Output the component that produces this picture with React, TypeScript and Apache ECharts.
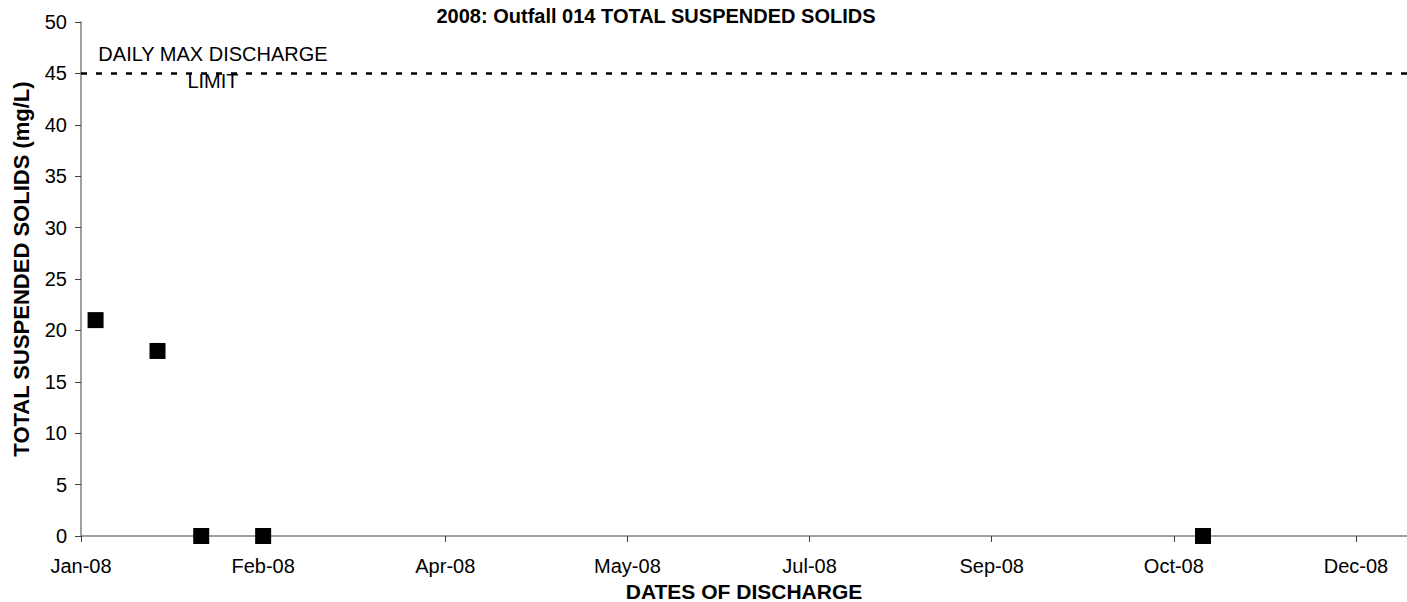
import React, { useEffect, useRef } from "react";
import * as echarts from "echarts";

// ---- data ----
const sampleDates = ["2008-01-05", "2008-01-22", "2008-02-03", "2008-02-20", "2008-11-04"];
const tssValues = [21, 18, 0, 0, 0];
const dailyMaxLimit = 45;
const xTickLabels = ["Jan-08", "Feb-08", "Apr-08", "May-08", "Jul-08", "Sep-08", "Oct-08", "Dec-08"];
const yTicks = [0, 5, 10, 15, 20, 25, 30, 35, 40, 45, 50];

const AXIS_START = Date.UTC(2008, 0, 1);
const DAY_MS = 86400000;
const X_INTERVAL = 50; // days between major ticks
const X_MAX = 364; // days shown

const toDay = (s: string) => Math.round((Date.parse(s + "T00:00:00Z") - AXIS_START) / DAY_MS);

const FONT = "'Liberation Sans', Arial, Helvetica, sans-serif";

export default function App() {
  const ref = useRef<HTMLDivElement>(null);

  useEffect(() => {
    if (!ref.current) return;
    const chart = echarts.init(ref.current, undefined, { renderer: "svg" });
    const points = sampleDates.map((d, i) => [toDay(d), tssValues[i]]);
    chart.setOption({
      animation: false,
      backgroundColor: "#ffffff",
      textStyle: { fontFamily: FONT },
      grid: {
        left: 81,
        top: 22,
        width: 1326,
        height: 514,
        containLabel: false,
        outerBoundsMode: "none",
      },
      xAxis: {
        type: "value",
        min: 0,
        max: X_MAX,
        interval: X_INTERVAL,
        name: "DATES OF DISCHARGE",
        nameLocation: "middle",
        nameGap: 44,
        nameTextStyle: { fontFamily: FONT, fontSize: 21, fontWeight: "bold", color: "#000" },
        axisLine: { show: true, onZero: false, lineStyle: { color: "#808080", width: 1.5 } },
        axisTick: { show: true, inside: false, length: 6, lineStyle: { color: "#404040", width: 1 } },
        axisLabel: {
          show: true,
          margin: 20,
          fontFamily: FONT,
          fontSize: 20,
          color: "#000",
          showMaxLabel: false,
          formatter: (v: number) => xTickLabels[Math.round(v / X_INTERVAL)] ?? "",
        },
        splitLine: { show: false },
      },
      yAxis: {
        type: "value",
        min: yTicks[0],
        max: yTicks[yTicks.length - 1],
        interval: yTicks[1] - yTicks[0],
        axisLine: { show: true, lineStyle: { color: "#808080", width: 1.5 } },
        axisTick: { show: true, inside: false, length: 6, lineStyle: { color: "#404040", width: 1 } },
        axisLabel: { margin: 14, fontFamily: FONT, fontSize: 20, color: "#000" },
        splitLine: { show: false },
      },
      series: [
        {
          name: "Daily max limit",
          type: "line",
          data: [
            [0, dailyMaxLimit],
            [X_MAX, dailyMaxLimit],
          ],
          symbol: "none",
          lineStyle: { color: "#000", width: 2.5, type: [6, 9] },
          silent: true,
          z: 3,
        },
        {
          name: "TSS",
          type: "scatter",
          data: points,
          symbol: "rect",
          symbolSize: 16,
          itemStyle: { color: "#000", opacity: 1 },
          z: 4,
        },
      ],
      graphic: [
        {
          type: "text",
          x: 656,
          y: 16,
          style: {
            text: "2008: Outfall 014 TOTAL SUSPENDED SOLIDS",
            fontFamily: FONT,
            fontSize: 20,
            fontWeight: "bold",
            fill: "#000",
            textAlign: "center",
            textVerticalAlign: "middle",
          },
        },
        {
          type: "text",
          x: 21,
          y: 269,
          rotation: Math.PI / 2,
          style: {
            text: "TOTAL SUSPENDED SOLIDS (mg/L)",
            fontFamily: FONT,
            fontSize: 22,
            fontWeight: "bold",
            fill: "#000",
            textAlign: "center",
            textVerticalAlign: "middle",
          },
        },
        {
          type: "text",
          x: 213,
          y: 54,
          z: 10,
          style: {
            text: "DAILY MAX DISCHARGE",
            fontFamily: FONT,
            fontSize: 20,
            fill: "#000",
            textAlign: "center",
            textVerticalAlign: "middle",
          },
        },
        {
          type: "text",
          x: 213,
          y: 81,
          z: 10,
          style: {
            text: "LIMIT",
            fontFamily: FONT,
            fontSize: 20,
            fill: "#000",
            textAlign: "center",
            textVerticalAlign: "middle",
          },
        },
      ],
    });
    return () => chart.dispose();
  }, []);

  return (
    <div
      ref={ref}
      style={{ position: "fixed", left: 0, top: 0, width: 1407, height: 602, background: "#fff" }}
    />
  );
}
